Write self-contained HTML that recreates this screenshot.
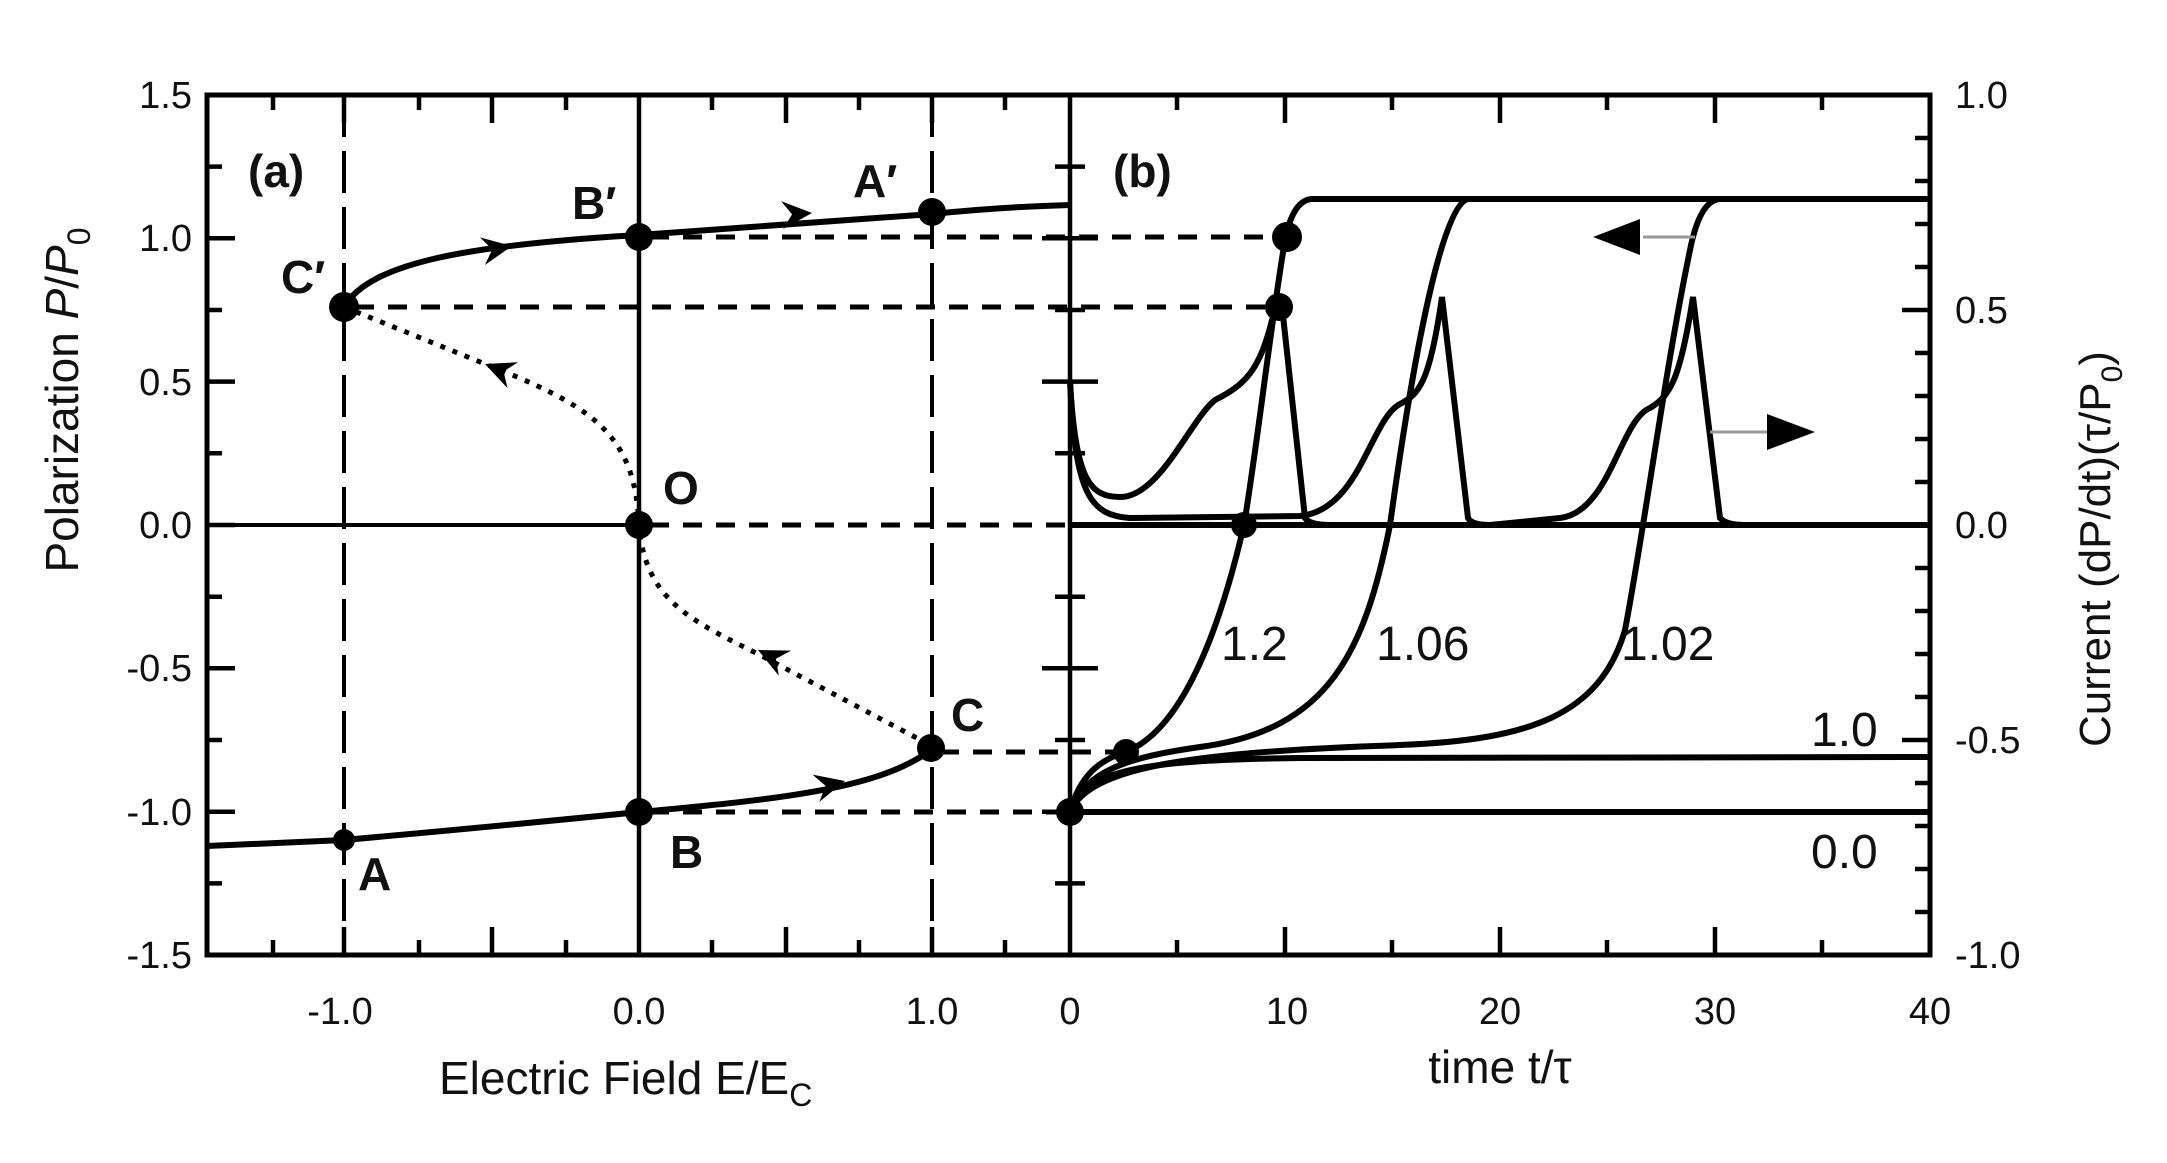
<!DOCTYPE html>
<html><head><meta charset="utf-8"><style>
html,body{margin:0;padding:0;background:#fff}
svg{display:block}
text{font-family:"Liberation Sans",Arial,sans-serif;fill:#111}
</style></head><body>
<svg width="2167" height="1163" viewBox="0 0 2167 1163" xmlns="http://www.w3.org/2000/svg">
<defs>
<polygon id="ah" points="0,0 -30,-14 -20,0 -30,14" fill="#000"/>
</defs>
<g stroke="#000" fill="none">
<rect x="207" y="95" width="1723" height="860" stroke-width="5"/>
<line x1="1070" y1="95" x2="1070" y2="955" stroke-width="4.5"/>
<line x1="639" y1="95" x2="639" y2="955" stroke-width="4.5"/>
<line x1="207" y1="525" x2="639" y2="525" stroke-width="4"/>
<line x1="1070" y1="525" x2="1930" y2="525" stroke-width="6"/>
<path stroke-width="4.5" d="M207,166.6h15M207,238.3h28M207,310h15M207,381.6h28M207,453.3h15M207,525h28M207,596.7h15M207,668.3h28M207,740h15M207,811.7h28M207,883.4h15
M1070,166.6h15M1070,238.3h28M1070,310h15M1070,381.6h28M1070,453.3h15M1070,596.7h15M1070,668.3h28M1070,740h15M1070,811.7h28M1070,883.4h15
M1070,166.6h-15M1070,238.3h-28M1070,310h-15M1070,381.6h-28M1070,453.3h-15M1070,596.7h-15M1070,668.3h-28M1070,740h-15M1070,811.7h-28M1070,883.4h-15
M1930,138h-15M1930,181h-15M1930,224h-15M1930,267h-15M1930,310h-28M1930,353h-15M1930,396h-15M1930,439h-15M1930,482h-15M1930,568h-15M1930,611h-15M1930,654h-15M1930,697h-15M1930,740h-28M1930,783h-15M1930,826h-15M1930,869h-15M1930,912h-15
M273,95v15M344,95v28M419,95v15M492,95v28M566,95v15M712,95v15M786,95v28M859,95v15M932,95v28M1005,95v15
M273,955v-15M344,955v-28M419,955v-15M492,955v-28M566,955v-15M712,955v-15M786,955v-28M859,955v-15M932,955v-28M1005,955v-15
M1177,95v15M1285,95v28M1392,95v15M1500,95v28M1607,95v15M1715,95v28M1822,95v15
M1177,955v-15M1285,955v-28M1392,955v-15M1500,955v-28M1607,955v-15M1715,955v-28M1822,955v-15"/>
<line x1="344" y1="95" x2="344" y2="955" stroke-width="4" stroke-dasharray="42 14"/>
<line x1="932" y1="95" x2="932" y2="955" stroke-width="4" stroke-dasharray="42 14"/>
<g stroke-width="5" stroke-dasharray="19 14">
<line x1="650" y1="237" x2="1285" y2="237"/>
<line x1="355" y1="307" x2="1279" y2="307"/>
<line x1="650" y1="525" x2="1070" y2="525"/>
<line x1="940" y1="752" x2="1126" y2="752"/>
<line x1="650" y1="812" x2="1070" y2="812"/>
</g>
<path stroke-width="6" d="M207,846 L344,840 Q500,826 639,812 C770,800 880,790 932,749"/>
<path stroke-width="6" d="M344,307 C370,262 470,245 639,235 L932,214 Q1000,207 1070,205"/>
<path stroke-width="5" stroke-dasharray="5 8" d="M344,307 L500,370 C600,410 635,440 639,525 C645,600 690,620 760,655 L930,745"/>
<g stroke-width="6">
<path d="M1070,812 C1080,775 1100,760 1125,752 C1185,730 1222,620 1244,525 C1258,440 1270,330 1285,240 Q1293,200 1312,199 L1930,199"/>
<path d="M1070,812 C1085,770 1130,757 1200,747 C1330,730 1365,650 1390,525 C1410,380 1440,205 1468,199"/>
<path d="M1070,812 C1090,765 1200,752 1400,745 C1530,740 1600,715 1625,630 C1645,525 1665,370 1690,250 Q1700,200 1720,199"/>
<path d="M1070,812 C1085,770 1140,760 1300,758 L1930,757"/>
<line x1="1070" y1="812" x2="1930" y2="812"/>
<path d="M1070,380 C1075,480 1090,497 1120,497 C1160,497 1190,420 1215,400 C1245,385 1260,370 1272,320 L1281,297 L1305,518 Q1310,525 1330,525"/>
<path d="M1070,380 C1075,495 1090,515 1130,518 L1300,516 C1360,510 1370,420 1400,404 C1420,394 1430,380 1442,297 L1468,518 Q1472,525 1490,525"/>
<path d="M1490,525 L1560,518 C1610,512 1620,420 1650,408 C1670,396 1680,380 1693,297 L1720,518 Q1726,525 1745,525"/>
</g>
<line x1="1643" y1="237" x2="1695" y2="237" stroke="#999" stroke-width="3"/>
<line x1="1710" y1="432" x2="1767" y2="432" stroke="#999" stroke-width="3"/>
</g>
<use href="#ah" transform="translate(512,246) rotate(-10)"/>
<use href="#ah" transform="translate(812,213) rotate(-4)"/>
<use href="#ah" transform="translate(845,781) rotate(-14)"/>
<use href="#ah" transform="translate(485,364) rotate(202)"/>
<use href="#ah" transform="translate(758,650) rotate(206)"/>
<g fill="#000">
<polygon points="1593,237 1640,219 1640,255"/>
<polygon points="1815,432 1767,414 1767,450"/>
<circle cx="639" cy="237" r="14"/><circle cx="932" cy="212" r="14"/>
<circle cx="344" cy="307" r="15"/><circle cx="639" cy="525" r="14"/>
<circle cx="931" cy="748" r="14"/><circle cx="639" cy="812" r="14"/>
<circle cx="344" cy="840" r="11"/>
<circle cx="1070" cy="812" r="14"/><circle cx="1126" cy="752" r="13"/>
<circle cx="1244" cy="525" r="13"/><circle cx="1279" cy="307" r="14"/>
<circle cx="1287" cy="237" r="15"/>
</g>
<g font-size="38" text-anchor="end">
<text x="192" y="108">1.5</text><text x="192" y="251">1.0</text><text x="192" y="395">0.5</text>
<text x="192" y="538">0.0</text><text x="192" y="681">-0.5</text><text x="192" y="825">-1.0</text><text x="192" y="968">-1.5</text>
</g>
<g font-size="38" text-anchor="start">
<text x="1955" y="108">1.0</text><text x="1955" y="323">0.5</text><text x="1955" y="538">0.0</text>
<text x="1955" y="753">-0.5</text><text x="1955" y="968">-1.0</text>
</g>
<g font-size="38" text-anchor="middle">
<text x="340" y="1024">-1.0</text><text x="639" y="1024">0.0</text><text x="932" y="1024">1.0</text>
<text x="1070" y="1024">0</text><text x="1287" y="1024">10</text><text x="1500" y="1024">20</text>
<text x="1715" y="1024">30</text><text x="1930" y="1024">40</text>
</g>
<text x="439" y="1094" font-size="46">Electric Field E/E<tspan font-size="32" dy="12">C</tspan></text>
<text x="1500" y="1083" font-size="46" text-anchor="middle">time t/τ</text>
<text transform="translate(78,400) rotate(-90)" font-size="46" text-anchor="middle">Polarization <tspan font-style="italic">P</tspan>/<tspan font-style="italic">P</tspan><tspan font-size="32" dy="12">0</tspan></text>
<text transform="translate(2110,549) rotate(-90)" font-size="44" text-anchor="middle">Current (dP/dt)(τ/P<tspan font-size="30" dy="12">0</tspan><tspan dy="-12">)</tspan></text>
<g font-size="46" font-weight="bold">
<text x="248" y="187">(a)</text><text x="1113" y="187">(b)</text>
<text x="572" y="219">B′</text><text x="853" y="197">A′</text><text x="281" y="293">C′</text>
<text x="663" y="504">O</text><text x="951" y="731">C</text><text x="670" y="868">B</text><text x="358" y="890">A</text>
</g>
<g font-size="48">
<text x="1221" y="660">1.2</text><text x="1376" y="660">1.06</text><text x="1621" y="660">1.02</text>
<text x="1811" y="746">1.0</text><text x="1811" y="868">0.0</text>
</g>
</svg>
</body></html>
